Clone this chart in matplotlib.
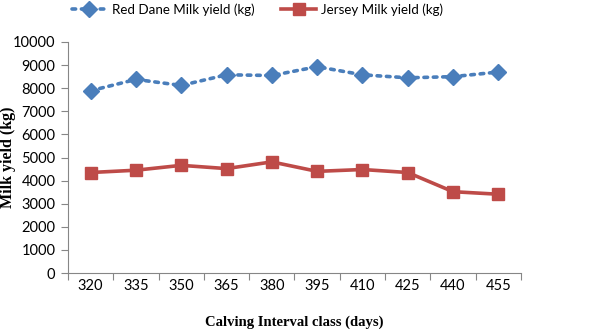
import matplotlib
matplotlib.use("Agg")
import matplotlib.pyplot as plt
import numpy as np

categories = ["320", "335", "350", "365", "380", "395", "410", "425", "440", "455"]
red_dane = [7890, 8380, 8120, 8580, 8550, 8930, 8580, 8450, 8500, 8700]
jersey = [4350, 4450, 4660, 4520, 4810, 4400, 4480, 4350, 3520, 3410]
yticks = [0, 1000, 2000, 3000, 4000, 5000, 6000, 7000, 8000, 9000, 10000]

fig = plt.figure(figsize=(6, 3.32), dpi=100)
ax = fig.add_axes([0.1133, 0.1777, 0.755, 0.6958])

x = np.arange(len(categories))
blue = "#4A7EBB"
red = "#BE4B48"
ax.plot(x, red_dane, color=blue, linestyle=(0, (1, 1.6)), linewidth=2.6,
        dash_capstyle="round", marker="D", markersize=8.5,
        markerfacecolor=blue, markeredgecolor=blue, label="Red Dane Milk yield (kg)")
ax.plot(x, jersey, color=red, linestyle="-", linewidth=2.6,
        marker="s", markersize=8.7, markerfacecolor=red, markeredgecolor=red,
        label="Jersey Milk yield (kg)")

ax.set_xlim(-0.5, len(categories) - 0.5)
ax.set_ylim(0, 10000)
ax.set_yticks(yticks)
ax.set_yticklabels([str(v) for v in yticks])
ax.set_xticks(np.arange(-0.5, len(categories), 1.0))
ax.set_xticklabels([])
ax.set_xticks(x, minor=True)
ax.set_xticklabels(categories, minor=True)
ax.tick_params(axis="x", which="major", length=5, color="#868686", width=0.8, direction="out")
ax.tick_params(axis="x", which="minor", length=0, pad=4)
ax.tick_params(axis="y", length=5, color="#868686", width=0.8, direction="out", pad=4)

tick_font = "Lato"
for lab in ax.get_xticklabels(minor=True) + ax.get_yticklabels():
    lab.set_fontfamily(tick_font)
    lab.set_fontsize(10.5)
    lab.set_color("#000000")

for s in ["top", "right"]:
    ax.spines[s].set_visible(False)
for s in ["left", "bottom"]:
    ax.spines[s].set_color("#868686")
    ax.spines[s].set_linewidth(0.8)

ax.set_xlabel("Calving Interval class (days)", fontfamily="Liberation Serif",
              fontweight="bold", fontsize=10.5)
ax.xaxis.set_label_coords(0.5, -0.185)
ax.set_ylabel("Milk yield (kg)", fontfamily="Liberation Serif",
              fontweight="bold", fontsize=11.5)
ax.yaxis.set_label_coords(-0.115, 0.5)

leg = fig.legend(loc="upper left", bbox_to_anchor=(0.118, 0.995), ncol=2, frameon=False,
                 prop={"family": tick_font, "size": 9.6}, handlelength=2.6,
                 columnspacing=2.0, handletextpad=0.4, borderpad=0.1,
                 borderaxespad=0.0)

fig.savefig("out.png", dpi=100)
